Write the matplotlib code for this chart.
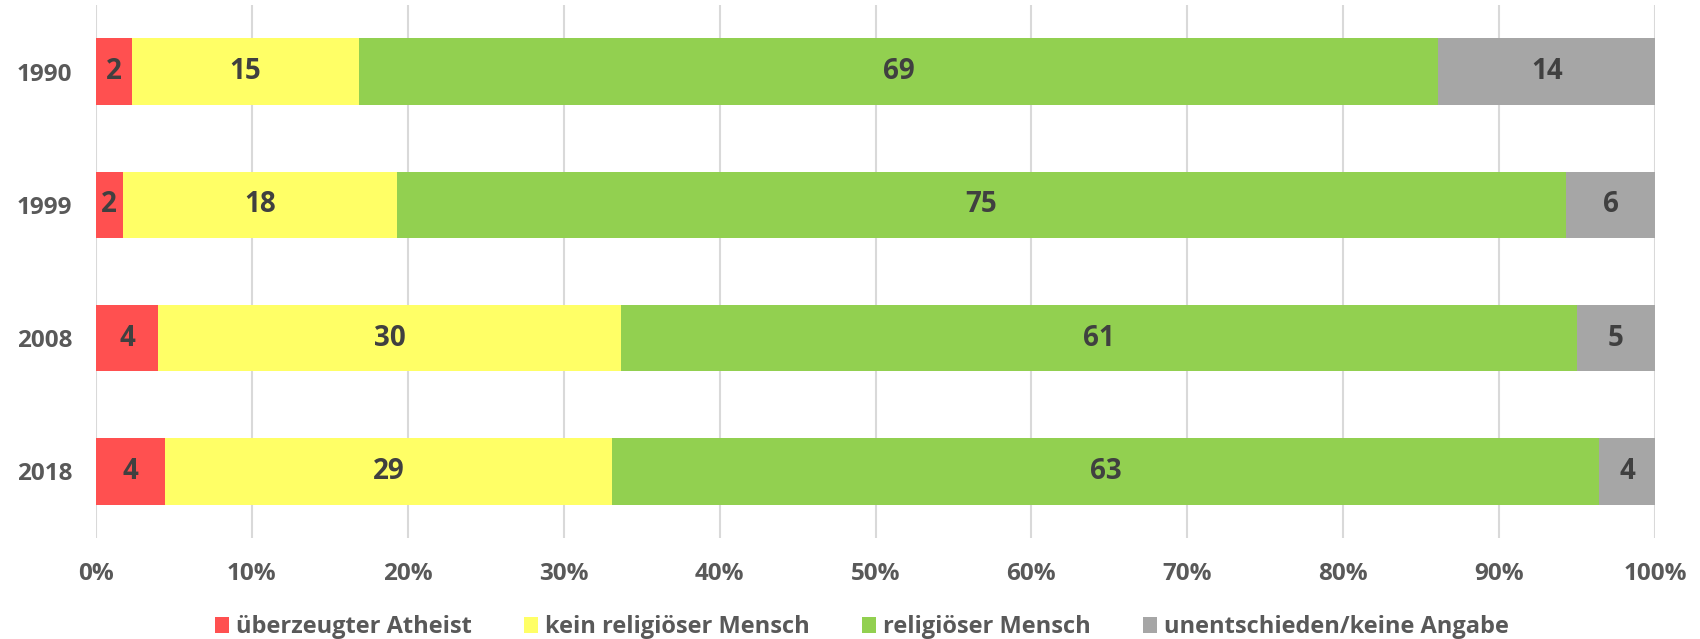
import matplotlib.pyplot as plt

# Werte (Anteile in %)
jahre = ['1990', '1999', '2008', '2018']
atheist = [2.3, 1.7, 4.0, 4.4]
kein_religioes = [14.6, 17.6, 29.7, 28.7]
religioes = [69.2, 75.0, 61.3, 63.3]
unentschieden = [13.9, 5.7, 5.0, 3.6]

serien = [
    ('überzeugter Atheist', atheist, '#FF5050'),
    ('kein religiöser Mensch', kein_religioes, '#FFFF66'),
    ('religiöser Mensch', religioes, '#92D050'),
    ('unentschieden/keine Angabe', unentschieden, '#A6A6A6'),
]

plt.rcParams['font.family'] = ['Open Sans', 'DejaVu Sans']

fig = plt.figure(figsize=(17, 6.39), dpi=100)
ax = fig.add_axes([96 / 1700, 1 - 538 / 639, (1655 - 96) / 1700, (538 - 5) / 639])

y_pos = list(range(len(jahre)))
links = [0] * len(jahre)
for name, werte, farbe in serien:
    bars = ax.barh(y_pos, werte, left=links, height=0.5, color=farbe,
                   label=name, zorder=2)
    ax.bar_label(bars, labels=[str(round(w)) for w in werte], label_type='center',
                 fontsize=20, fontweight='bold', color='#404040')
    links = [l + w for l, w in zip(links, werte)]

ax.set_xlim(0, 100)
ax.set_ylim(3.5, -0.5)
ax.set_yticks(y_pos, jahre)
ax.set_xticks(range(0, 101, 10), [f'{x}%' for x in range(0, 101, 10)])
ax.tick_params(axis='both', length=0, labelsize=17.5, labelcolor='#595959')
ax.tick_params(axis='y', pad=17)
ax.tick_params(axis='x', pad=17)
for lbl in ax.get_xticklabels() + ax.get_yticklabels():
    lbl.set_fontweight('bold')

# Gitterlinien
ax.grid(axis='x', color='#D9D9D9', linewidth=1.5, zorder=0)
ax.grid(axis='y', visible=False)
for s in ax.spines.values():
    s.set_visible(False)

fig.legend(loc='center', bbox_to_anchor=(862 / 1700, 1 - 627 / 639), ncol=4,
           frameon=False, prop={'size': 17, 'weight': 'bold'},
           labelcolor='#595959', handlelength=0.6, handleheight=0.65,
           handletextpad=0.3, columnspacing=2.2)

fig.savefig('out.png', dpi=100)
